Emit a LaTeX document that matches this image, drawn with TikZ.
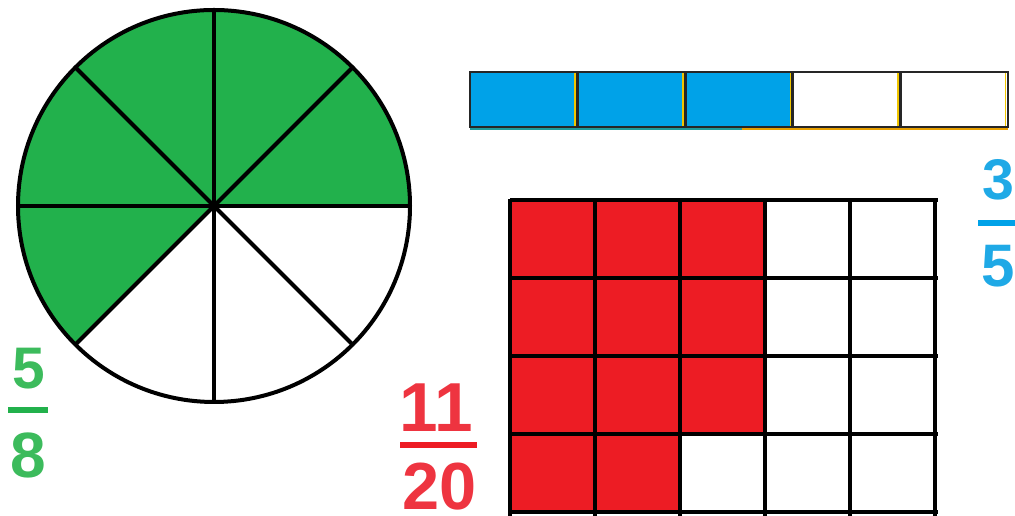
\documentclass[tikz,border=0pt]{standalone}
\usepackage{fontspec}
\setmainfont{Liberation Sans}
\usetikzlibrary{positioning}

\definecolor{pieGreen}{HTML}{22B14C}
\definecolor{fracGreen}{HTML}{3CBB5C}
\definecolor{barBlue}{HTML}{00A2E8}
\definecolor{fracBlue}{HTML}{1FA9E6}
\definecolor{gridRed}{HTML}{ED1C24}
\definecolor{fracRed}{HTML}{EE3440}
\definecolor{edgeTeal}{HTML}{1E9A9A}
\definecolor{edgeOrange}{HTML}{E8A000}

\tikzset{
  digits/.style={font=\fontsize{#1}{#1}\bfseries\selectfont, inner sep=0pt},
  outline/.style={line width=3pt, black},
}

\begin{document}
\begin{tikzpicture}[x=0.75pt, y=0.75pt]
  \useasboundingbox (0,0) rectangle (1015,516);

  % pie, 5 of 8
  \coordinate (o) at (214,310);
  \fill[pieGreen] (o) -- ++(0:196) arc (0:225:196) -- cycle;
  \foreach \a in {0,45,...,315}
    \draw[outline] (o) -- ++(\a:196);
  \draw[outline] (o) circle (196);

  % bar, 3 of 5
  \foreach \i in {0,1,2}
    \fill[barBlue] (470+107.6*\i,389) rectangle ++(107.6,55);
  \draw[edgeTeal, line width=1.5pt] (470,387) -- (742,387);
  \draw[edgeOrange, line width=1.5pt] (742,387) -- (1008,387);
  \foreach \i in {1,...,5}
    \draw[edgeOrange!60!yellow, line width=1.2pt] (470+107.6*\i-2.5,390) -- ++(0,53);
  \draw[line width=2.2pt, black!85] (470,389) rectangle (1008,444);
  \foreach \i in {1,...,4}
    \draw[line width=2.2pt, black!85] (470+107.6*\i,389) -- ++(0,55);

  % grid, 11 of 20
  \foreach \r in {0,1,2}
    \foreach \c in {0,1,2}
      \fill[gridRed] (510+85*\c,316-78*\r) rectangle ++(85,-78);
  \fill[gridRed] (510,82) rectangle (680,3);
  \foreach \r in {0,...,4}
    \draw[outline] (510,316-78*\r) -- (938,316-78*\r);
  \foreach \c in {0,...,5}
    \draw[outline] (510+85*\c,317) -- (510+85*\c,0);

  % fractions
  \node[digits=44, fracGreen] (num5) at (29,147) {5};
  \node[digits=48, fracGreen] (den8) at (28,61) {8};
  \coordinate (g1) at (8,106);
  \coordinate (g2) at (48,106);
  \draw[pieGreen, line width=5pt] (g1) -- (g2);

  \node[digits=52, fracRed] (num11) at (436,108) {11};
  \node[digits=50, fracRed] (den20) at (440,29) {20};
  \coordinate (r1) at (400,71);
  \coordinate (r2) at (477,71);
  \draw[gridRed, line width=5pt] (r1) -- (r2);

  \node[digits=43, fracBlue] (num3) at (998,336) {3};
  \node[digits=45, fracBlue] (den5) at (998,250) {5};
  \coordinate (b1) at (978,293);
  \coordinate (b2) at (1015,293);
  \draw[barBlue, line width=5pt] (b1) -- (b2);
\end{tikzpicture}
\end{document}
